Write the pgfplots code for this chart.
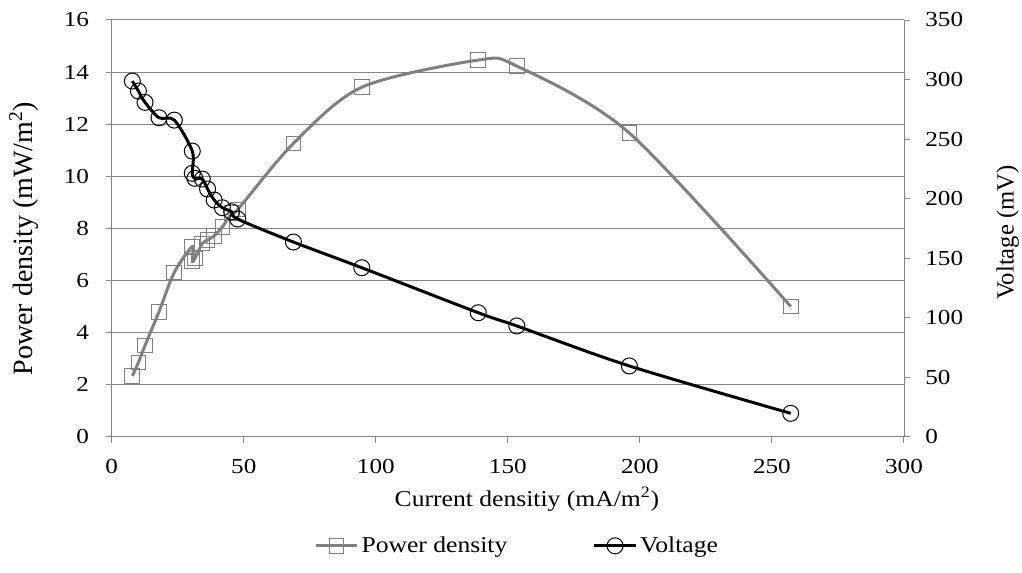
\documentclass[border=0pt]{standalone}
\usepackage{pgfplots}
\pgfplotsset{compat=1.18}
\usepackage{pgfplotstable}
\usepackage{fontspec}
\setmainfont{Liberation Serif}
\definecolor{axgray}{HTML}{868686}
\definecolor{pgray}{HTML}{808080}
\pgfplotstableread{
I P V
7.8 2.33 298.7
10.1 2.85 290.3
12.6 3.50 280.8
17.9 4.80 267.9
23.7 6.31 265.9
30.5 7.30 239.9
30.5 6.73 221.2
31.5 6.84 217.0
34.3 7.42 216.4
36.3 7.55 208.0
38.8 7.71 198.8
41.9 8.06 192.3
45.4 8.58 188.9
47.7 8.72 182.8
68.8 11.26 163.5
94.7 13.42 141.9
138.8 14.46 104.1
153.4 14.23 93.0
196.0 11.66 59.4
257.1 5.00 19.6
}\datatable
\begin{document}
\begin{tikzpicture}
\pgfplotsset{
  every axis/.append style={
    scale only axis, width=594.2pt, height=312.5pt,
    at={(0,0)}, anchor=south west,
    xmin=0, xmax=300,
    tick align=outside, major tick length=4.5pt,
    axis line style={draw=axgray, line width=0.75pt, -},
    every tick/.style={draw=axgray, line width=0.75pt},
    tick label style={font=\fontsize{16}{19}\selectfont},
    /pgf/number format/assume math mode=true,
    xticklabel={\scalebox{1.18}[1]{\pgfmathprintnumber{\tick}}},
    yticklabel={\scalebox{1.18}[1]{\pgfmathprintnumber{\tick}}},
  },
}
\begin{axis}[
  axis x line*=bottom, axis y line*=left,
  ymin=0, ymax=16, ytick={0,2,...,16},
  xtick={0,50,...,300},
  yticklabel style={xshift=-9pt},
  xticklabel style={yshift=-9pt},
  ymajorgrids, grid style={draw=axgray, line width=0.75pt},
  xlabel={\scalebox{1.13}[1]{Current densitiy (mA/m\textsuperscript{2})}},
  xlabel style={at={(axis description cs:0.524,-0.150)}, anchor=center, font=\fontsize{17}{20}\selectfont},
  ylabel={Power density (mW/m\textsuperscript{2})},
  ylabel style={at={(axis description cs:-0.111,0.475)}, anchor=center, font=\fontsize{21}{25}\selectfont},
]
\addplot[pgray, line width=2.25pt, smooth, tension=0.5, mark=square, mark size=5.5pt,
  mark options={line width=0.75pt, fill=none, draw=pgray, solid}] table[x=I, y=P] {\datatable};
\end{axis}
\begin{axis}[
  axis x line=none, axis y line*=right,
  ymin=0, ymax=350, ytick={0,50,...,350},
  yticklabel style={xshift=8pt},
  ylabel={Voltage (mV)},
  ylabel style={at={(axis description cs:1.131,0.49)}, anchor=center, font=\fontsize{18.5}{22}\selectfont},
  legend style={at={(axis description cs:0.512,-0.262)}, anchor=center, draw=none,
    font=\fontsize{17}{20}\selectfont, legend columns=2,
    /tikz/every even column/.append style={column sep=62pt}},
  legend image code/.code={\draw[#1, mark repeat=2, mark phase=2] plot coordinates {(0cm,0cm) (0.55cm,0cm) (1.1cm,0cm)};},
]
\addlegendimage{pgray, line width=2.25pt, mark=square, mark size=5.5pt,
  mark options={line width=0.75pt, fill=none, draw=pgray, solid}}
\addlegendentry{\scalebox{1.13}[1]{Power density}}
\addplot[black, line width=2.25pt, smooth, tension=0.5, mark=o, mark size=6pt,
  mark options={line width=0.75pt, fill=none, draw=black, solid}] table[x=I, y=V] {\datatable};
\addlegendentry{\scalebox{1.13}[1]{Voltage}}
\end{axis}
\pgfresetboundingbox
\path[use as bounding box] (-83.8pt,-101.5pt) rectangle (682.7pt,327.5pt);
\end{tikzpicture}
\end{document}
